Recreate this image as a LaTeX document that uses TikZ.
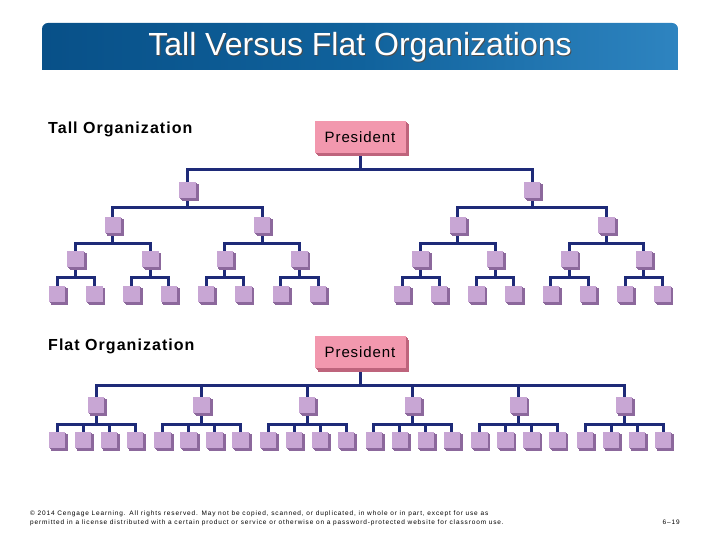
\documentclass[tikz,border=0pt]{standalone}
\usepackage{fontspec}
\setmainfont{Liberation Sans}
\usetikzlibrary{shadows,backgrounds,calc}
\definecolor{navy}{RGB}{30,42,120}
\definecolor{boxface}{RGB}{200,166,212}
\definecolor{boxside}{RGB}{140,104,156}
\definecolor{presface}{RGB}{242,152,174}
\definecolor{presside}{RGB}{190,100,124}
\definecolor{barleft}{RGB}{8,80,136}
\definecolor{barmid}{RGB}{16,98,156}
\definecolor{barright}{RGB}{46,132,192}
\begin{document}
\begin{tikzpicture}[x=1pt,y=-1pt,
  conn/.style={draw=navy,line width=3pt},
  unit/.style={fill=boxface,minimum width=16.5pt,minimum height=16.5pt,inner sep=0pt,
    drop shadow={shadow xshift=0.9pt,shadow yshift=-0.9pt,fill=boxside,opacity=1},
    drop shadow={shadow xshift=1.8pt,shadow yshift=-1.8pt,fill=boxside,opacity=1},
    drop shadow={shadow xshift=2.7pt,shadow yshift=-2.7pt,fill=boxside,opacity=1}},
  pres/.style={fill=presface,minimum width=91pt,minimum height=32pt,inner sep=0pt,
    font=\fontsize{15}{18}\selectfont\addfontfeature{LetterSpace=6},
    drop shadow={shadow xshift=1.2pt,shadow yshift=-1.2pt,fill=presside,opacity=1},
    drop shadow={shadow xshift=2.4pt,shadow yshift=-2.4pt,fill=presside,opacity=1},
    drop shadow={shadow xshift=3.5pt,shadow yshift=-3.5pt,fill=presside,opacity=1}},
  heading/.style={anchor=base west,inner sep=0pt,font=\bfseries\fontsize{16}{19}\selectfont\addfontfeature{LetterSpace=6.5}},
  foot/.style={anchor=base west,inner sep=0pt,font=\fontsize{6.5}{8}\selectfont\addfontfeature{LetterSpace=13.4}}]
\useasboundingbox (0,0) rectangle (720,540);
% title bar
\path[left color=barleft,right color=barright,middle color=barmid]
  (42,70) [rounded corners=6pt] -- (42,23) -- (678,23) [sharp corners] -- (678,70) -- cycle;
\node[text=black!70,font=\fontsize{32}{38}\selectfont] (titleshadow) at (361,48) {Tall Versus Flat Organizations};
\node[text=white,font=\fontsize{32}{38}\selectfont] (title) at (360,47) {Tall Versus Flat Organizations};
% headings
\node[heading] (tallh) at (48,134) {Tall Organization};
\node[heading] (flath) at (48,350) {Flat Organization};
% tall organization
\node[pres] (tp) at (360,137) {President};
\foreach \x [count=\i] in {187.55,532.2} \node[unit] (ta\i) at (\x,190) {};
\foreach \x [count=\i] in {112.95,262.15,457.8,606.6} \node[unit] (tb\i) at (\x,225) {};
\foreach \x [count=\i] in {75.65,150.25,224.85,299.45,420.6,495,569.4,643.8} \node[unit] (tc\i) at (\x,259) {};
\foreach \x [count=\i] in {57,94.3,131.6,168.9,206.2,243.5,280.8,318.1,402,439.2,476.4,513.6,550.8,588,625.2,662.4}
  \node[unit] (td\i) at (\x,294) {};
% flat organization
\node[pres] (fp) at (360,352) {President};
\foreach \g in {1,...,6} {
  \pgfmathsetmacro\cx{96+105.6*(\g-1)}
  \node[unit] (fa\g) at (\cx,405) {};
  \foreach \k in {0,...,3} {
    \pgfmathtruncatemacro\j{4*(\g-1)+\k+1}
    \node[unit] (fb\j) at (\cx-39+26*\k,440) {};
  }
}
% connectors
\begin{pgfonlayer}{background}
\foreach \i in {1,2}
  \draw[conn] (tp.center) -- (tp.center |- 0,170) -| (ta\i.center);
\foreach \j in {1,...,4} {
  \pgfmathtruncatemacro\p{(\j+1)/2}
  \draw[conn] (ta\p.center) -- (ta\p.center |- 0,208) -| (tb\j.center);
}
\foreach \j in {1,...,8} {
  \pgfmathtruncatemacro\p{(\j+1)/2}
  \draw[conn] (tb\p.center) -- (tb\p.center |- 0,243) -| (tc\j.center);
}
\foreach \j in {1,...,16} {
  \pgfmathtruncatemacro\p{(\j+1)/2}
  \draw[conn] (tc\p.center) -- (tc\p.center |- 0,277) -| (td\j.center);
}
\foreach \g in {1,...,6} {
  \draw[conn] (fp.center) -- (fp.center |- 0,385) -| (fa\g.center);
  \foreach \k in {1,...,4} {
    \pgfmathtruncatemacro\j{4*(\g-1)+\k}
    \draw[conn] (fa\g.center) -- (fa\g.center |- 0,424) -| (fb\j.center);
  }
}
\end{pgfonlayer}
% footer
\node[foot] (foot1) at (30,515) {© 2014 Cengage Learning. All rights reserved. May not be copied, scanned, or duplicated, in whole or in part, except for use as};
\node[foot] (foot2) at (30,524) {permitted in a license distributed with a certain product or service or otherwise on a password-protected website for classroom use.};
\node[foot,anchor=base east] (page) at (680,524) {6–19};
\end{tikzpicture}
\end{document}
